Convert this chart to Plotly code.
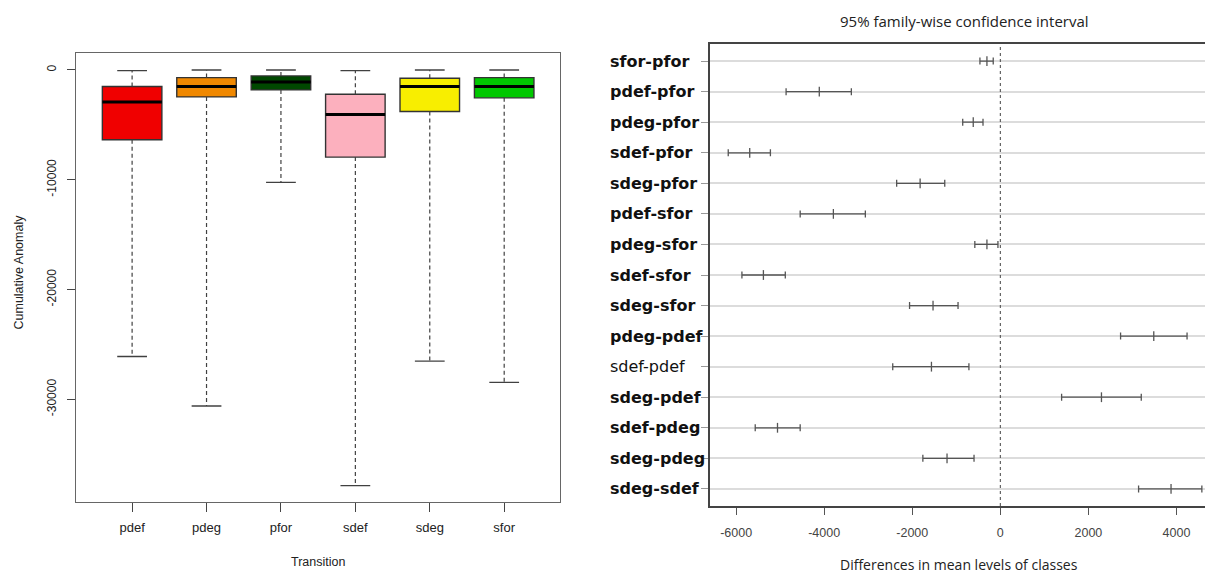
import plotly.graph_objects as go

W, H = 1213, 574
OFF = 8  # default page margin around the figure

# ---------------- data: box plot ----------------
transitions = ["pdef", "pdeg", "pfor", "sdef", "sdeg", "sfor"]
box_colors = ["#F00000", "#F08800", "#004800", "#FCB0BE", "#F8EE00", "#00C800"]
upper_w = [-60, 0, 0, -60, 0, 0]
q3 = [-1515, -700, -545, -2210, -760, -700]
median = [-2910, -1515, -1090, -4060, -1515, -1515]
q1 = [-6365, -2455, -1820, -7940, -3790, -2545]
lower_w = [-26090, -30610, -10240, -37850, -26515, -28455]
y_ticks_left = [0, -10000, -20000, -30000]

# ---------------- data: Tukey HSD ----------------
comparisons = ["sfor-pfor", "pdef-pfor", "pdeg-pfor", "sdef-pfor", "sdeg-pfor",
               "pdef-sfor", "pdeg-sfor", "sdef-sfor", "sdeg-sfor", "pdeg-pdef",
               "sdef-pdef", "sdeg-pdef", "sdef-pdeg", "sdeg-pdeg", "sdeg-sdef"]
diff = [-304, -4111, -615, -5691, -1821, -3791, -304, -5380, -1528, 3485,
        -1564, 2297, -5060, -1210, 3877]
lwr = [-463, -4865, -854, -6179, -2354, -4545, -579, -5868, -2061, 2731,
       -2443, 1392, -5566, -1759, 3140]
upr = [-161, -3383, -393, -5221, -1262, -3065, -54, -4883, -960, 4241,
       -713, 3201, -4545, -597, 4577]
bold_label = [True] * 10 + [False] + [True] * 4
x_ticks_right = [-6000, -4000, -2000, 0, 2000, 4000]

FW, FH = W - OFF, H - OFF

fig = go.Figure()

# ---- boxes (left) ----
BOXW = 0.8
CAPW = 0.4
for i, t in enumerate(transitions):
    xi = i + 1
    fig.add_trace(go.Box(
        x=[xi], q1=[q1[i]], median=[median[i]], q3=[q3[i]],
        lowerfence=[q1[i]], upperfence=[q3[i]],
        width=BOXW, fillcolor=box_colors[i],
        line=dict(color="#333333", width=1.4),
        boxpoints=False, showlegend=False, hoverinfo="skip",
        xaxis="x", yaxis="y"))

# whiskers (dashed)
wx, wy = [], []
for i in range(len(transitions)):
    xi = i + 1
    wx += [xi, xi, None, xi, xi, None]
    wy += [q3[i], upper_w[i], None, q1[i], lower_w[i], None]
fig.add_trace(go.Scatter(x=wx, y=wy, mode="lines",
                         line=dict(color="#404040", width=1.2, dash="4px,3px"),
                         showlegend=False, hoverinfo="skip", xaxis="x", yaxis="y"))
# caps
cx, cy = [], []
for i in range(len(transitions)):
    xi = i + 1
    cx += [xi - CAPW / 2, xi + CAPW / 2, None, xi - CAPW / 2, xi + CAPW / 2, None]
    cy += [upper_w[i], upper_w[i], None, lower_w[i], lower_w[i], None]
fig.add_trace(go.Scatter(x=cx, y=cy, mode="lines",
                         line=dict(color="#404040", width=1.4),
                         showlegend=False, hoverinfo="skip", xaxis="x", yaxis="y"))
# medians (thick)
mx, my = [], []
for i in range(len(transitions)):
    xi = i + 1
    mx += [xi - BOXW / 2, xi + BOXW / 2, None]
    my += [median[i], median[i], None]
fig.add_trace(go.Scatter(x=mx, y=my, mode="lines",
                         line=dict(color="#000000", width=3),
                         showlegend=False, hoverinfo="skip", xaxis="x", yaxis="y"))

# ---- Tukey intervals (right) ----
n = len(comparisons)
rows = [n - k for k in range(n)]
fig.add_trace(go.Scatter(
    x=diff, y=rows, mode="markers",
    marker=dict(symbol="line-ns-open", size=7, color="#555555",
                line=dict(color="#555555", width=1.3)),
    error_x=dict(type="data", symmetric=False,
                 array=[u - d for u, d in zip(upr, diff)],
                 arrayminus=[d - l for d, l in zip(diff, lwr)],
                 color="#555555", thickness=1.3, width=3.5),
    showlegend=False, hoverinfo="skip", xaxis="x2", yaxis="y2"))


def px_x(p):
    return (p - OFF) / FW


def px_y(p):
    return 1 - (p - OFF) / FH


axis_font = dict(family="Liberation Sans, Arial, sans-serif", size=13, color="#222222")

fig.update_layout(
    width=FW, height=FH,
    margin=dict(l=0, r=0, t=0, b=0, pad=0),
    paper_bgcolor="white", plot_bgcolor="white",
    showlegend=False,
    xaxis=dict(domain=[px_x(76.3), px_x(560)], range=[0.25, 6.75],
               tickmode="array", tickvals=list(range(1, len(transitions) + 1)),
               ticktext=transitions, ticks="outside", ticklen=9, tickwidth=1.2,
               tickcolor="#444444", ticklabelstandoff=5,
               showline=True, mirror=True, linecolor="#666666", linewidth=1.3,
               showgrid=False, zeroline=False, tickfont=axis_font,
               automargin=False),
    yaxis=dict(domain=[px_y(501.5), px_y(53.3)], range=[-39300, 1514],
               tickmode="array", tickvals=y_ticks_left,
               ticktext=[str(v) for v in y_ticks_left],
               tickangle=-90, ticks="outside", ticklen=8, tickwidth=1.2,
               tickcolor="#444444", ticklabelstandoff=6,
               showline=True, mirror=True, linecolor="#666666", linewidth=1.3,
               showgrid=False, zeroline=False,
               tickfont=dict(family="Liberation Sans, Arial, sans-serif", size=12, color="#222222"),
               automargin=False),
    xaxis2=dict(domain=[px_x(710), 1.0], range=[-6593, 4830], anchor="y2",
                tickmode="array", tickvals=x_ticks_right,
                ticktext=[str(v) for v in x_ticks_right],
                ticks="outside", ticklen=7, tickwidth=1.2, tickcolor="#555555",
                ticklabelstandoff=7,
                showline=True, mirror=True, linecolor="#444444", linewidth=1.5,
                showgrid=False, zeroline=False,
                tickfont=dict(family="Liberation Sans, Arial, sans-serif", size=12.5, color="#444444"),
                automargin=False),
    yaxis2=dict(domain=[px_y(506), px_y(44)], range=[0.44, 15.56], anchor="x2",
                tickmode="array", tickvals=rows, showticklabels=False,
                ticks="outside", ticklen=7, tickwidth=1.2, tickcolor="#999999",
                showline=True, mirror=False, linecolor="#444444", linewidth=1.5,
                showgrid=True, gridcolor="#dcdcdc", gridwidth=1.6,
                zeroline=False, automargin=False),
)

# zero reference line
fig.add_shape(type="line", xref="x2", yref="y2 domain", x0=0, x1=0, y0=0, y1=1,
              line=dict(color="#444444", width=1, dash="3px,3px"))

annotations = []
for lab, r, b in zip(comparisons, rows, bold_label):
    annotations.append(dict(
        text=f"<b>{lab}</b>" if b else lab, xref="paper", yref="y2",
        x=px_x(608), y=r, xanchor="left", yanchor="middle", showarrow=False,
        font=dict(family="DejaVu Sans", size=16, color="#111111")))
annotations += [
    dict(text="Cumulative Anomaly", xref="paper", yref="paper",
         x=px_x(18.5), y=px_y(272), textangle=-90, showarrow=False,
         xanchor="center", yanchor="middle",
         font=dict(family="Liberation Sans, Arial, sans-serif", size=12.5, color="#222222")),
    dict(text="Transition", xref="paper", yref="paper",
         x=px_x(318), y=px_y(562), showarrow=False, xanchor="center", yanchor="middle",
         font=dict(family="Liberation Sans, Arial, sans-serif", size=12.5, color="#222222")),
    dict(text="95% family-wise confidence interval", xref="paper", yref="paper",
         x=px_x(964), y=px_y(21), showarrow=False, xanchor="center", yanchor="middle",
         font=dict(family="Open Sans", size=15, color="#222222")),
    dict(text="Differences in mean levels of classes", xref="paper", yref="paper",
         x=px_x(959), y=px_y(564), showarrow=False, xanchor="center", yanchor="middle",
         font=dict(family="Open Sans", size=14, color="#222222")),
]
fig.update_layout(annotations=annotations)

fig.write_html("out.html")
